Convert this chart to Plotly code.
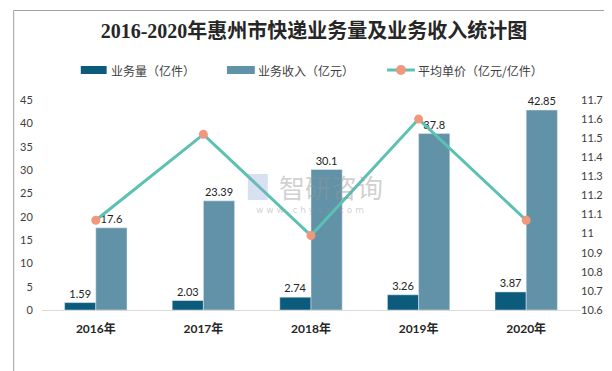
import plotly.graph_objects as go

years = ["2016年", "2017年", "2018年", "2019年", "2020年"]
volume = [1.59, 2.03, 2.74, 3.26, 3.87]          # 业务量（亿件）
revenue = [17.6, 23.39, 30.1, 37.8, 42.85]       # 业务收入（亿元）
unit_price = [11.07, 11.52, 10.99, 11.60, 11.07] # 平均单价
series_names = ["业务量（亿件）", "业务收入（亿元）", "平均单价（亿元/亿件）"]
left_ticks = [0, 5, 10, 15, 20, 25, 30, 35, 40, 45]
right_ticks = [10.6, 10.7, 10.8, 10.9, 11.0, 11.1, 11.2, 11.3, 11.4, 11.5, 11.6, 11.7]
right_ticktext = ["10.6", "10.7", "10.8", "10.9", "11", "11.1", "11.2", "11.3", "11.4", "11.5", "11.6", "11.7"]

W, H = 612, 371
ML, MR, MT, MB = 31, 40, 92, 69
PW, PH = W - ML - MR, H - MT - MB

def px_x(x):
    return (x - ML) / PW

def px_y(y):
    return (H - MB - y) / PH

C_DARK, C_LIGHT, C_LINE, C_MARK = "#0c5b7c", "#6192a8", "#5cc0b3", "#f0977c"
lab_font = dict(family="Lato, Noto Sans CJK SC, sans-serif", size=11, color="#222222")

fig = go.Figure()
fig.add_trace(go.Bar(
    x=years, y=volume, name=series_names[0],
    marker=dict(color=C_DARK),
    text=[f"{v:g}" for v in volume], textposition="outside",
    textfont=lab_font, cliponaxis=False,
))
fig.add_trace(go.Bar(
    x=years, y=revenue, name=series_names[1],
    marker=dict(color=C_LIGHT),
    text=[f"{v:g}" for v in revenue], textposition="outside",
    textfont=lab_font, cliponaxis=False,
))
fig.add_trace(go.Scatter(
    x=years, y=unit_price, name=series_names[2], yaxis="y2",
    mode="lines+markers",
    line=dict(color=C_LINE, width=3),
    marker=dict(color=C_MARK, size=9),
    cliponaxis=False,
))

tick_font = dict(family="Lato, Noto Sans CJK SC, sans-serif", size=11, color="#404040")

fig.update_layout(
    width=W, height=H,
    margin=dict(l=ML, r=MR, t=MT, b=MB),
    paper_bgcolor="white", plot_bgcolor="white",
    barmode="group", bargap=0.42, bargroupgap=0,
    title=dict(
        text="2016-2020年惠州市快递业务量及业务收入统计图",
        x=0.5, xanchor="center", y=1 - 23 / H, yanchor="middle",
        font=dict(family="Liberation Serif, Noto Sans CJK SC, serif", size=20, color="#262626", weight="bold"),
    ),
    showlegend=False,
    xaxis=dict(
        showgrid=False, showline=True, linecolor="#d9d9d9", linewidth=1,
        ticks="outside", ticklen=8, tickcolor="rgba(0,0,0,0)",
        tickfont=dict(family="Lato, Noto Sans CJK SC, sans-serif", size=12, color="#262626", weight="bold"),
    ),
    yaxis=dict(
        range=[0, 45], tickvals=left_ticks, showgrid=False, zeroline=False,
        showline=False, ticks="outside", ticklen=6, tickcolor="rgba(0,0,0,0)",
        tickfont=tick_font,
    ),
    yaxis2=dict(
        range=[10.6, 11.7], tickvals=right_ticks, ticktext=right_ticktext,
        overlaying="y", side="right", showgrid=False, zeroline=False,
        showline=False, ticks="", tickfont=tick_font,
    ),
)

# manual legend
leg_y = 62
leg_font = dict(family="Noto Sans CJK SC, sans-serif", size=12, color="#404040")
fig.add_shape(type="rect", xref="paper", yref="paper", x0=px_x(70), x1=px_x(96),
              y0=px_y(66), y1=px_y(58), line=dict(width=0), fillcolor=C_DARK)
fig.add_shape(type="rect", xref="paper", yref="paper", x0=px_x(217), x1=px_x(245),
              y0=px_y(66), y1=px_y(58), line=dict(width=0), fillcolor=C_LIGHT)
fig.add_shape(type="line", xref="paper", yref="paper", x0=px_x(378), x1=px_x(406),
              y0=px_y(leg_y), y1=px_y(leg_y), line=dict(color=C_LINE, width=3))
fig.add_shape(type="circle", xref="paper", yref="paper", x0=px_x(387), x1=px_x(397),
              y0=px_y(leg_y + 5), y1=px_y(leg_y - 5), line=dict(width=0), fillcolor=C_MARK)
for name, x in zip(series_names, [98, 246, 407]):
    fig.add_annotation(text=name, xref="paper", yref="paper", x=px_x(x), y=px_y(leg_y),
                       xanchor="left", yanchor="middle", showarrow=False, font=leg_font)

# outer chart frame
fig.add_shape(type="rect", xref="paper", yref="paper",
              x0=px_x(2.5), x1=px_x(607.5), y0=px_y(366.5), y1=px_y(2.5),
              line=dict(color="#a0a0a0", width=1), fillcolor="rgba(0,0,0,0)", layer="above")

# watermark
fig.add_annotation(text="智研咨询", xref="paper", yref="paper", x=px_x(322), y=px_y(178),
                   showarrow=False, font=dict(family="Noto Sans CJK SC", size=26, color="rgba(150,150,150,0.45)"))
fig.add_annotation(text="w w w . c h y x x . c o m", xref="paper", yref="paper", x=px_x(300), y=px_y(202),
                   showarrow=False, font=dict(family="DejaVu Sans", size=9, color="rgba(150,150,150,0.45)"))
fig.add_shape(type="rect", xref="paper", yref="paper",
              x0=px_x(238), x1=px_x(258), y0=px_y(192), y1=px_y(166),
              line=dict(width=0), fillcolor="rgba(140,170,210,0.35)")

fig.write_html("out.html")
